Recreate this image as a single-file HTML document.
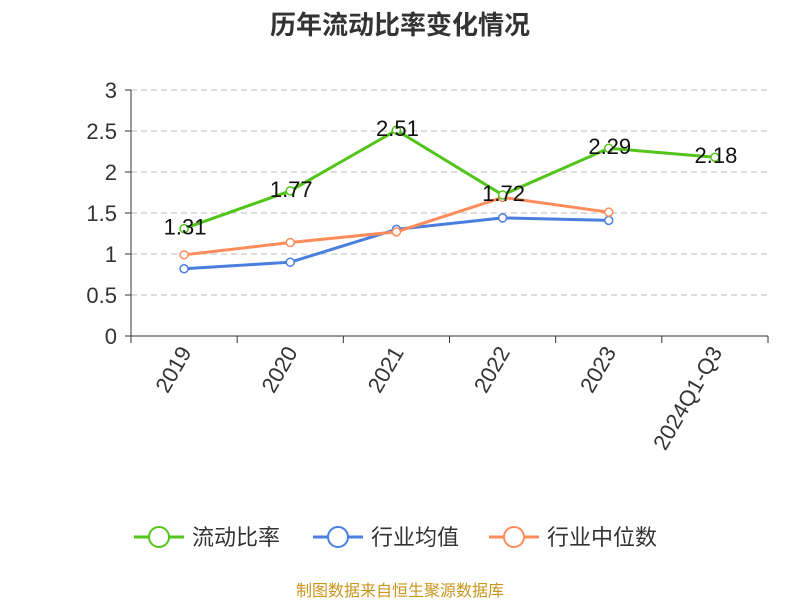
<!DOCTYPE html>
<html><head><meta charset="utf-8"><style>
body{margin:0;background:#fff;}
svg text{font-family:"Liberation Sans","Noto Sans CJK SC",sans-serif;}
</style></head><body>
<svg id="c" width="800" height="600" xmlns="http://www.w3.org/2000/svg">
<text x="400" y="34" text-anchor="middle" font-size="26" font-weight="bold" fill="#333">历年流动比率变化情况</text>
<g id="grid"></g><g id="axes"></g><g id="series"></g>
<g id="legend"></g>
<text x="400" y="596" text-anchor="middle" font-size="16" fill="#c8951d">制图数据来自恒生聚源数据库</text>
</svg>
<script>
const categories=["2019","2020","2021","2022","2023","2024Q1-Q3"];
const yTicks=[0,0.5,1,1.5,2,2.5,3];
const currentRatio=[1.31,1.77,2.51,1.72,2.29,2.18];
const industryMean=[0.82,0.90,1.30,1.44,1.41];
const industryMedian=[0.99,1.14,1.27,1.69,1.51];
const seriesNames=["流动比率","行业均值","行业中位数"];
const NS="http://www.w3.org/2000/svg";
const L=131,R=768,T=90,B=336,yMax=3;
const bw=(R-L)/categories.length;
const x=i=>L+bw*(i+0.5);
const y=v=>B-(v/yMax)*(B-T);
function mk(tag,attrs,parent,text){const e=document.createElementNS(NS,tag);for(const k in attrs)e.setAttribute(k,attrs[k]);if(text!==undefined)e.textContent=text;parent.appendChild(e);return e;}
const grid=document.getElementById('grid'),axes=document.getElementById('axes'),ser=document.getElementById('series'),leg=document.getElementById('legend');
yTicks.forEach(t=>{
 if(t>0){const g=mk('line',{x1:L,x2:R,y1:y(t),y2:y(t),stroke:'#bbb','stroke-dasharray':'6,4'},grid);
 
 }
 const tk=mk('line',{x1:L-6,x2:L,y1:y(t),y2:y(t),stroke:'#333'},axes);
 
 
 const lb=mk('text',{x:L-14,y:y(t)+8,'text-anchor':'end','font-size':22,fill:'#333'},axes,String(t));
 
 
});
const ya=mk('line',{x1:L,x2:L,y1:T,y2:B,stroke:'#333'},axes);


const xa=mk('line',{x1:L,x2:R,y1:B,y2:B,stroke:'#333'},axes);


for(let i=0;i<=categories.length;i++){
 const tk=mk('line',{x1:L+bw*i,x2:L+bw*i,y1:B,y2:B+7,stroke:'#333'},axes);
 
 
}
categories.forEach((c,i)=>{
 const t=mk('text',{x:x(i)+8,y:B+16,'text-anchor':'end','font-size':22,fill:'#333',transform:`rotate(-60 ${x(i)+8} ${B+16})`},axes,c);
 
 
});
function drawSeries(vals,color,name,labels){
 const g=mk('g',{},ser);
 
 
 const p=mk('polyline',{points:vals.map((v,i)=>x(i)+','+y(v)).join(' '),fill:'none',stroke:color,'stroke-width':3},g);
 
 
 vals.forEach((v,i)=>{
  const c=mk('circle',{cx:x(i),cy:y(v),r:4,fill:'#fff',stroke:color,'stroke-width':1.5},g);
  
  
 });
 if(labels){vals.forEach((v,i)=>{const t=mk('text',{x:x(i)+1,y:y(v)+6,'text-anchor':'middle','font-size':22,fill:'#111'},ser,v.toFixed(2));
  
  });}
}
drawSeries(industryMean,'#4a7fe0','industry-mean-series',false);
drawSeries(industryMedian,'#ff8c5a','industry-median-series',false);
drawSeries(currentRatio,'#52c41a','current-ratio-series',true);
const colors=['#52c41a','#4a7fe0','#ff8c5a'];
const lx=[134,313,489];
seriesNames.forEach((n,i)=>{
 const g=mk('g',{},leg);
 
 
 mk('line',{x1:lx[i],x2:lx[i]+50,y1:537,y2:537,stroke:colors[i],'stroke-width':3},g);
 mk('circle',{cx:lx[i]+25,cy:537,r:10,fill:'#fff',stroke:colors[i],'stroke-width':2},g);
 mk('text',{x:lx[i]+58,y:545,'font-size':22,fill:'#333'},g,n);
});
</script>
</body></html>
